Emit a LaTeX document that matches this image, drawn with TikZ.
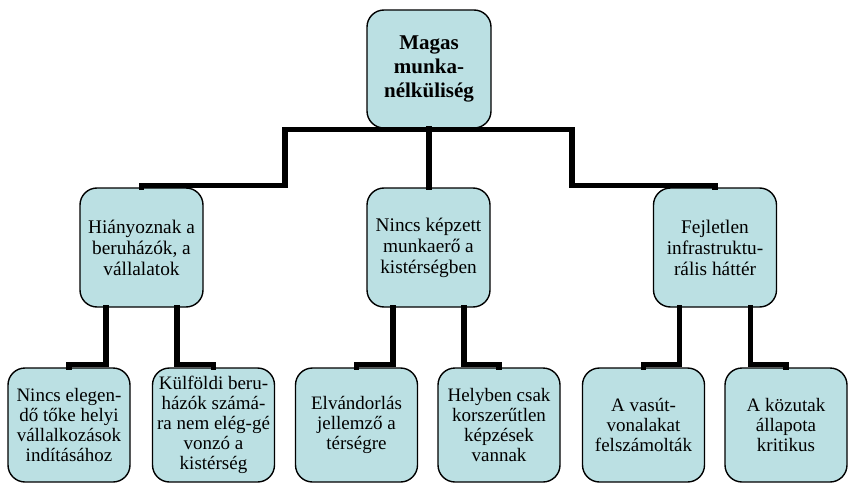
\documentclass[tikz,border=0pt]{standalone}
\usepackage{fontspec}
\setmainfont{Liberation Serif}
\definecolor{boxfill}{HTML}{BBE0E3}
\tikzset{
  x=1pt, y=-1pt,
  box/.style={draw=black, line width=1.4pt, fill=boxfill, rounded corners=17pt,
    align=center, inner sep=1pt, text=black},
  topbox/.style={box, minimum width=124pt, minimum height=118pt,
    font=\fontsize{21}{24}\selectfont\bfseries},
  midbox/.style={box, minimum width=123pt, minimum height=119pt,
    font=\fontsize{19.3}{21}\selectfont},
  lowbox/.style={box, minimum width=122pt, minimum height=114pt,
    font=\fontsize{19}{20}\selectfont},
  conn/.style={draw=black, line width=5.5pt, line join=miter, line cap=rect}
}
\begin{document}
\begin{tikzpicture}
\useasboundingbox (0,0) rectangle (848,484);
\coordinate (tl) at (285,129.5);
\coordinate (tr) at (572,129.5);
\coordinate (jl) at (285,185.5);
\coordinate (jr) at (572,185.5);
\node[topbox] (top) at (429,69) {Magas\\munka-\\nélküliség};
\node[midbox] (m1) at (141.5,247.5) {Hiányoznak a\\beruházók, a\\vállalatok};
\node[midbox] (m2) at (428.5,247.5) {Nincs képzett\\munkaerő a\\kistérségben};
\node[midbox] (m3) at (715,247.5) {Fejletlen\\infrastruktu-\\rális háttér};
\node[lowbox] (b1) at (69,425) {Nincs elegen-\\dő tőke helyi\\vállalkozások\\indításához};
\node[lowbox] (b2) at (213.5,425) {Külföldi beru-\\házók számá-\\ra nem elég-gé\\vonzó a\\kistérség};
\node[lowbox] (b3) at (356.5,425) {Elvándorlás\\jellemző a\\térségre};
\node[lowbox] (b4) at (499,425) {Helyben csak\\korszerűtlen\\képzések\\vannak};
\node[lowbox] (b5) at (643.5,425) {A vasút-\\vonalakat\\felszámolták};
\node[lowbox] (b6) at (786,425) {A közutak\\állapota\\kritikus};
% top level connectors
\draw[conn] (m1.north) |- (jl) -- (tl) -- (tr) -- (jr) -| (m3.north);
\draw[conn] (top.south) -- (top.south |- m2.north);
% lower connectors
\draw[conn] ([xshift=-35.5pt]m1.south) -- ++(0,57) -| (b1.north);
\draw[conn] ([xshift=35.5pt]m1.south) -- ++(0,57) -| (b2.north);
\draw[conn] ([xshift=-35.5pt]m2.south) -- ++(0,57) -| (b3.north);
\draw[conn] ([xshift=35.5pt]m2.south) -- ++(0,57) -| (b4.north);
\draw[conn] ([xshift=-35.5pt]m3.south) -- ++(0,57) -| (b5.north);
\draw[conn] ([xshift=35.5pt]m3.south) -- ++(0,57) -| (b6.north);
\end{tikzpicture}
\end{document}
